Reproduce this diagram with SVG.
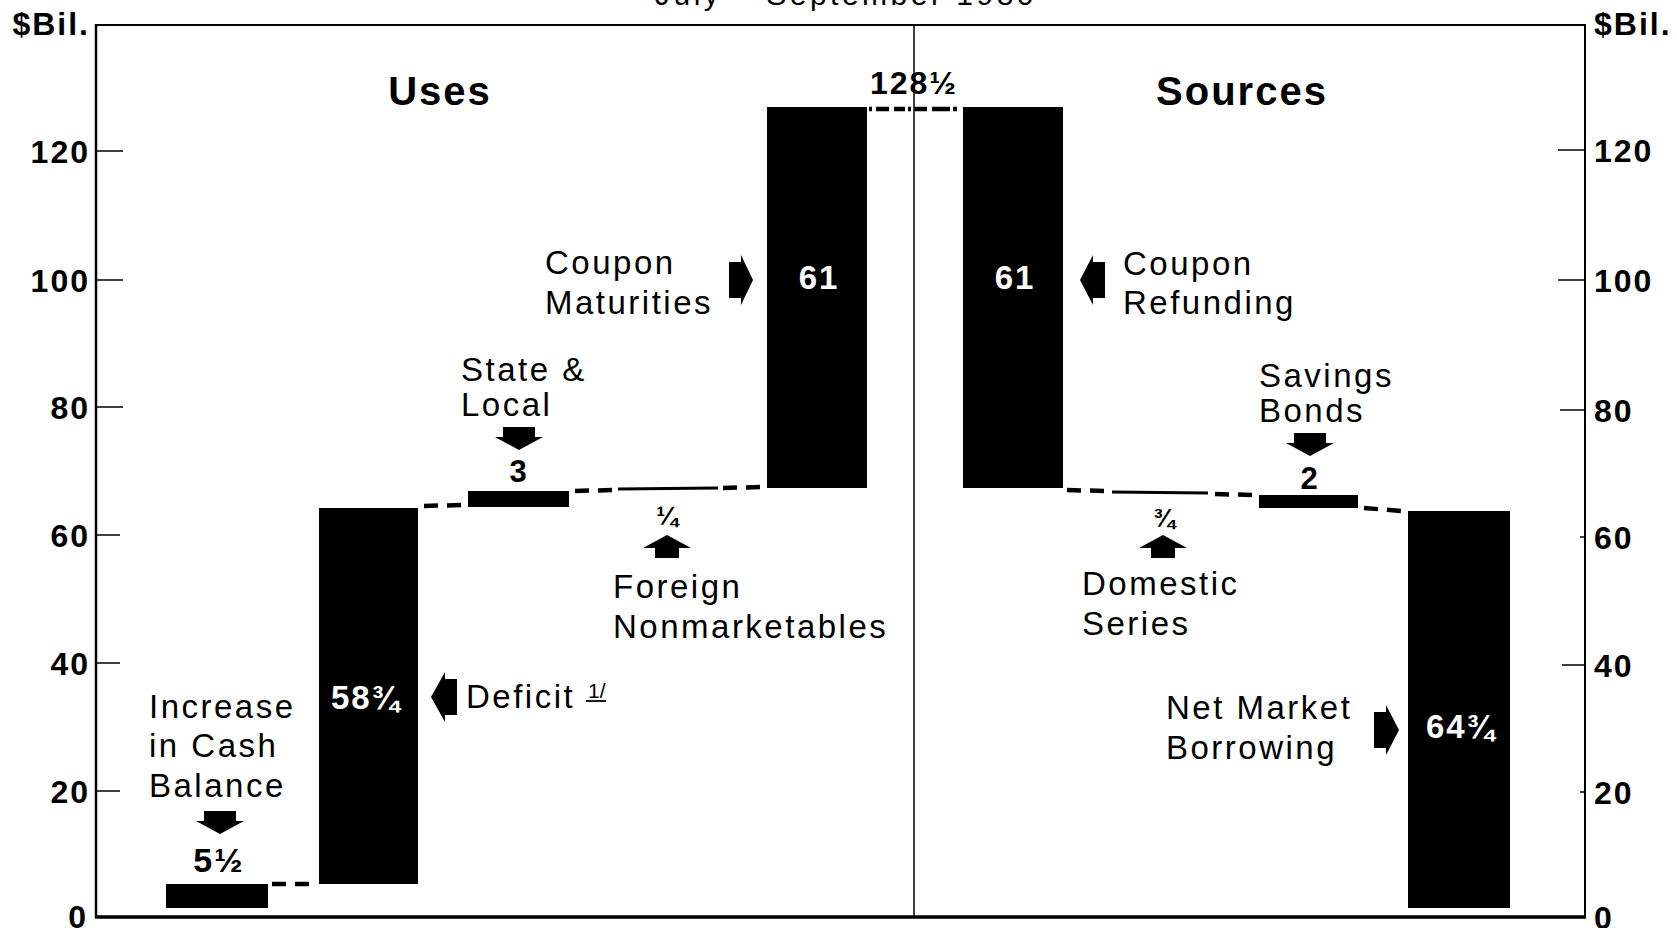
<svg xmlns="http://www.w3.org/2000/svg" width="1677" height="928" viewBox="0 0 1677 928">
<style>
text{font-family:"Liberation Sans",Arial,sans-serif;fill:#000}
.lbl{font-size:33px;letter-spacing:2.5px}
.num{font-size:31px;font-weight:bold;text-anchor:middle}
.wnum{font-size:33px;font-weight:bold;text-anchor:middle;fill:#fff;letter-spacing:2px}
.head{font-size:40px;font-weight:bold;text-anchor:middle;letter-spacing:2px}
.tick{font-size:32px;font-weight:bold;letter-spacing:2px}
.tl{text-anchor:end}
.bar{fill:#000}
.arr{fill:#000}
.dash{stroke:#000;stroke-width:4.5;stroke-dasharray:14 9;fill:none}
.axis{stroke:#000;fill:none}
.tk{stroke:#000;stroke-width:1.5}
</style>
<rect width="1677" height="928" fill="#fff"/>

<g id="frame">
  <text x="655" y="5" class="lbl" style="font-size:30px;letter-spacing:3.5px">July – September 1980</text>
  <line class="axis" x1="95" y1="25" x2="1586" y2="25" stroke-width="2"/>
  <line class="axis" x1="96" y1="24" x2="96" y2="918" stroke-width="2.5"/>
  <line class="axis" x1="1585" y1="24" x2="1585" y2="918" stroke-width="2"/>
  <line class="axis" x1="95" y1="917" x2="1586" y2="917" stroke-width="3.5"/>
  <line class="axis" x1="914" y1="25" x2="914" y2="917" stroke-width="1.5"/>
  <g id="ticks-left">
    <line class="tk" x1="96" y1="151" x2="123" y2="151"/>
    <line class="tk" x1="96" y1="280" x2="123" y2="280"/>
    <line class="tk" x1="96" y1="407" x2="123" y2="407"/>
    <line class="tk" x1="96" y1="535" x2="120" y2="535"/>
    <line class="tk" x1="96" y1="663" x2="120" y2="663"/>
    <line class="tk" x1="96" y1="791" x2="120" y2="791"/>
    <text x="90" y="35" class="tick tl">$Bil.</text>
    <text x="90" y="163" class="tick tl">120</text>
    <text x="90" y="292" class="tick tl">100</text>
    <text x="90" y="419" class="tick tl">80</text>
    <text x="90" y="547" class="tick tl">60</text>
    <text x="90" y="675" class="tick tl">40</text>
    <text x="90" y="803" class="tick tl">20</text>
    <text x="88" y="928" class="tick tl">0</text>
  </g>
  <g id="ticks-right">
    <line class="tk" x1="1558" y1="150" x2="1585" y2="150"/>
    <line class="tk" x1="1558" y1="280" x2="1585" y2="280"/>
    <line class="tk" x1="1560" y1="410" x2="1585" y2="410"/>
    <line class="tk" x1="1580" y1="537" x2="1585" y2="537"/>
    <line class="tk" x1="1562" y1="665" x2="1585" y2="665"/>
    <line class="tk" x1="1580" y1="792" x2="1585" y2="792"/>
    <text x="1594" y="35" class="tick">$Bil.</text>
    <text x="1594" y="162" class="tick">120</text>
    <text x="1594" y="292" class="tick">100</text>
    <text x="1594" y="422" class="tick">80</text>
    <text x="1594" y="549" class="tick">60</text>
    <text x="1594" y="677" class="tick">40</text>
    <text x="1594" y="804" class="tick">20</text>
    <text x="1594" y="929" class="tick">0</text>
  </g>
  <text x="440" y="105" class="head">Uses</text>
  <text x="1242" y="105" class="head">Sources</text>
</g>

<g id="connectors">
  <line class="dash" x1="272" y1="884" x2="309" y2="884"/>
  <line class="dash" x1="424" y1="506" x2="461" y2="505"/>
  <line class="dash" x1="575" y1="491" x2="612" y2="490"/>
  <line class="dash" x1="723" y1="488" x2="760" y2="487"/>
  <line class="dash" x1="869" y1="109" x2="960" y2="109" style="stroke-dasharray:3 4 13 5 11 3 3 3 13 5 18"/>
  <line class="dash" x1="1067" y1="490" x2="1104" y2="491"/>
  <line class="dash" x1="1215" y1="494" x2="1252" y2="495"/>
  <line class="dash" x1="1364" y1="508" x2="1401" y2="511"/>
</g>

<g id="cash-balance">
  <rect class="bar" x="166" y="884" width="102" height="24"/>
  <polygon class="arr" points="204,811 236,811 236,821 244,821 220,834 196,821 204,821"/>
  <text x="219" y="872" class="num" style="font-size:34px;letter-spacing:2px">5½</text>
  <text x="149" y="718" class="lbl">Increase</text>
  <text x="149" y="757" class="lbl">in Cash</text>
  <text x="149" y="797" class="lbl">Balance</text>
</g>

<g id="deficit">
  <rect class="bar" x="319" y="508" width="99" height="376"/>
  <text x="366" y="709" class="wnum">58¾</text>
  <polygon class="arr" points="431,697 445,672 445,679 457,679 457,715 445,715 445,722"/>
  <text x="466" y="708" class="lbl">Deficit</text>
  <text x="588" y="698" style="font-size:21px">1/</text>
  <line x1="586" y1="701" x2="606" y2="701" stroke="#000" stroke-width="1.8"/>
</g>

<g id="state-local">
  <rect class="bar" x="468" y="491" width="101" height="16"/>
  <polygon class="arr" points="503,427 535,427 535,437 543,437 519,450 495,437 503,437"/>
  <text x="518" y="482" class="num">3</text>
  <text x="461" y="381" class="lbl">State &amp;</text>
  <text x="461" y="416" class="lbl">Local</text>
</g>

<g id="foreign">
  <line x1="618" y1="489" x2="718" y2="488" stroke="#000" stroke-width="3"/>
  <text x="667" y="525" class="num" style="font-size:26px">¼</text>
  <polygon class="arr" points="667,535 691,548 679,548 679,558 655,558 655,548 643,548"/>
  <text x="613" y="598" class="lbl">Foreign</text>
  <text x="613" y="638" class="lbl">Nonmarketables</text>
</g>

<g id="coupon-maturities">
  <rect class="bar" x="767" y="107" width="100" height="381"/>
  <text x="819" y="289" class="wnum">61</text>
  <polygon class="arr" points="729,262 741,262 741,255 753,280 741,305 741,298 729,298"/>
  <text x="545" y="274" class="lbl">Coupon</text>
  <text x="545" y="314" class="lbl">Maturities</text>
</g>

<g id="total">
  <text x="914" y="94" class="num" style="font-size:32px;letter-spacing:2px">128½</text>
</g>

<g id="coupon-refunding">
  <rect class="bar" x="963" y="107" width="100" height="381"/>
  <text x="1015" y="289" class="wnum">61</text>
  <polygon class="arr" points="1080,280 1093,255 1093,262 1105,262 1105,298 1093,298 1093,305"/>
  <text x="1123" y="275" class="lbl">Coupon</text>
  <text x="1123" y="314" class="lbl">Refunding</text>
</g>

<g id="domestic-series">
  <line x1="1112" y1="492" x2="1208" y2="493" stroke="#000" stroke-width="3"/>
  <text x="1164" y="527" class="num" style="font-size:26px">¾</text>
  <polygon class="arr" points="1163,535 1187,548 1175,548 1175,558 1151,558 1151,548 1139,548"/>
  <text x="1082" y="595" class="lbl">Domestic</text>
  <text x="1082" y="635" class="lbl">Series</text>
</g>

<g id="savings-bonds">
  <rect class="bar" x="1259" y="495" width="99" height="13"/>
  <polygon class="arr" points="1294,433 1326,433 1326,443 1334,443 1310,456 1286,443 1294,443"/>
  <text x="1309" y="489" class="num">2</text>
  <text x="1259" y="387" class="lbl">Savings</text>
  <text x="1259" y="422" class="lbl">Bonds</text>
</g>

<g id="net-market-borrowing">
  <rect class="bar" x="1408" y="511" width="102" height="397"/>
  <text x="1461" y="738" class="wnum">64¾</text>
  <polygon class="arr" points="1374,712 1386,712 1386,705 1399,730 1386,755 1386,748 1374,748"/>
  <text x="1166" y="719" class="lbl">Net Market</text>
  <text x="1166" y="759" class="lbl">Borrowing</text>
</g>
</svg>
